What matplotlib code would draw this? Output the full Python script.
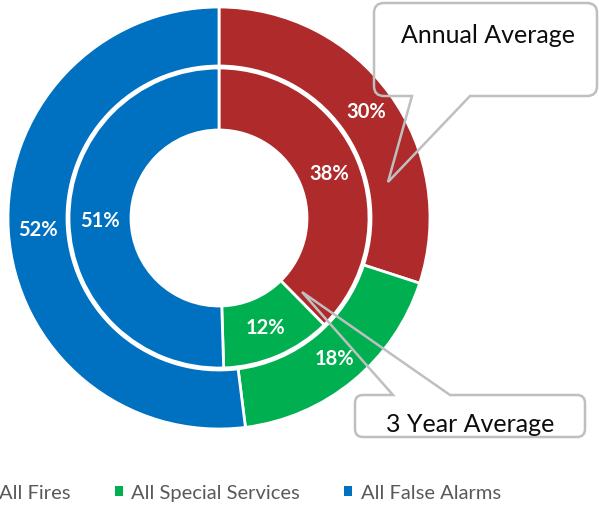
import matplotlib
matplotlib.use("Agg")
import matplotlib.pyplot as plt
from matplotlib.path import Path
from matplotlib.patches import PathPatch, Patch

categories = ["All Fires", "All Special Services", "All False Alarms"]
annual = [30, 18, 52]
three_year = [38, 12, 51]
colors = ["#AE2A2B", "#00B050", "#0070C0"]

plt.rcParams["font.family"] = ["Lato", "DejaVu Sans"]

W, H = 599, 506
fig = plt.figure(figsize=(W / 100, H / 100), dpi=100)
ax = fig.add_axes([0, 0, 1, 1])

# geometry in pixels (image coords, y measured from top)
cx, cy = 219, 219
r_out, w_out = 211, 59
r_in, w_in = 150, 62
center = (cx, H - cy)

_, t_out = ax.pie(annual, radius=r_out, center=center, colors=colors,
                  startangle=90, counterclock=False,
                  labels=[f"{v}%" for v in annual],
                  labeldistance=(r_out - w_out / 2) / r_out,
                  wedgeprops=dict(width=w_out, edgecolor="white", linewidth=2))
_, t_in = ax.pie(three_year, radius=r_in, center=center, colors=colors,
                 startangle=90, counterclock=False,
                 labels=[f"{v}%" for v in three_year],
                 labeldistance=(r_in - w_in / 2) / r_in,
                 wedgeprops=dict(width=w_in, edgecolor="white", linewidth=2))
for t in list(t_out) + list(t_in):
    t.set_ha("center")
    t.set_va("center")
    t.set_color("white")
    t.set_fontweight("bold")
    t.set_fontsize(14.5)


def callout(l, r, t, b, rad, side, base, tip):
    # rounded box outline with a pointer on the top or bottom edge
    def p(x, y):
        return (x, H - y)
    v, c = [], []

    def add(pt, code):
        v.append(p(*pt))
        c.append(code)

    add((l + rad, t), Path.MOVETO)
    if side == "top":
        add((base[0], t), Path.LINETO)
        add(tip, Path.LINETO)
        add((base[1], t), Path.LINETO)
    add((r - rad, t), Path.LINETO)
    add((r, t), Path.CURVE3)
    add((r, t + rad), Path.CURVE3)
    add((r, b - rad), Path.LINETO)
    add((r, b), Path.CURVE3)
    add((r - rad, b), Path.CURVE3)
    if side == "bottom":
        add((base[1], b), Path.LINETO)
        add(tip, Path.LINETO)
        add((base[0], b), Path.LINETO)
    add((l + rad, b), Path.LINETO)
    add((l, b), Path.CURVE3)
    add((l, b - rad), Path.CURVE3)
    add((l, t + rad), Path.LINETO)
    add((l, t), Path.CURVE3)
    add((l + rad, t), Path.CURVE3)
    add((l + rad, t), Path.CLOSEPOLY)
    ax.add_patch(PathPatch(Path(v, c), facecolor="none", edgecolor="#BFBFBF",
                           linewidth=1.8, zorder=5))


callout(374, 597, 4, 97, 10, "bottom", (412, 470), (388, 183))
ax.text(488, H - 35, "Annual Average", ha="center", va="center",
        fontsize=18, color="#0D0D0D", zorder=6)

callout(355, 585, 396, 438, 8, "top", (393, 450), (302, 293))
ax.text(470, H - 425, "3 Year Average", ha="center", va="center",
        fontsize=18, color="#0D0D0D", zorder=6)

handles = [Patch(facecolor=col, edgecolor="none") for col in colors]
ax.legend(handles, categories, loc="center", bbox_to_anchor=(242, H - 494),
          bbox_transform=ax.transData, ncol=3, frameon=False,
          handlelength=0.4, handleheight=0.4, handletextpad=0.4,
          columnspacing=2.2, fontsize=14.5, labelcolor="#595959")

ax.set_xlim(0, W)
ax.set_ylim(0, H)
ax.set_aspect("equal")
ax.axis("off")

fig.savefig("out.png", dpi=100)
